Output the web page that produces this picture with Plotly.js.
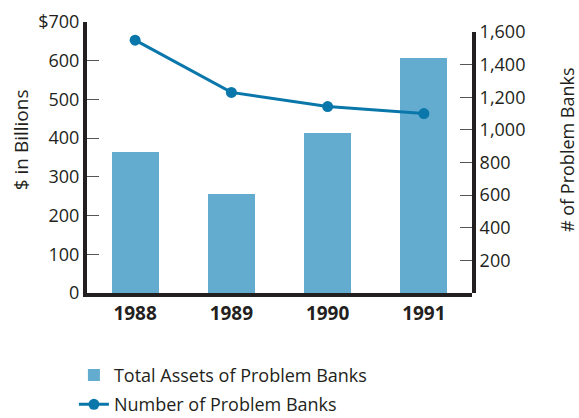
<!DOCTYPE html>
<html>
<head>
<meta charset="utf-8">
<script src="https://cdn.plot.ly/plotly-3.0.1.min.js"></script>
<style>html,body{margin:0;padding:0;background:#fff;}#chart{width:579px;height:418px;}</style>
</head>
<body>
<div id="chart"></div>
<script>
const years = ['1988', '1989', '1990', '1991'];
const totalAssets = [365, 257, 414, 606];          // $ in billions
const problemBanks = [1550, 1230, 1143, 1100];     // number of banks
const leftTicks = [0, 100, 200, 300, 400, 500, 600, 700];
const leftTickText = ['0', '100', '200', '300', '400', '500', '600', '$700'];
const rightTicks = [200, 400, 600, 800, 1000, 1200, 1400, 1600];

const FONT = '"Open Sans", "Noto Sans", sans-serif';
const INK = '#231f20';

const traces = [
  {
    type: 'bar', x: years, y: totalAssets, name: 'Total Assets of Problem Banks',
    marker: {color: '#63acd0'}, width: 0.49, legendgroup: 'a', hoverinfo: 'skip'
  },
  {
    type: 'scatter', mode: 'lines+markers', x: years, y: problemBanks, yaxis: 'y2',
    name: 'Number of Problem Banks', legendgroup: 'b',
    line: {color: '#0a77ab', width: 3}, marker: {color: '#0a77ab', size: 11}
  }
];

const layout = {
  width: 579, height: 418,
  margin: {l: 87, r: 107, t: 22, b: 125, pad: 0, autoexpand: false},
  paper_bgcolor: '#fff', plot_bgcolor: 'rgba(0,0,0,0)',
  font: {family: FONT, color: INK, size: 18},
  showlegend: true,
  legend: {
    x: -0.034, xanchor: 'left', y: -0.235, yanchor: 'top',
    orientation: 'v', tracegroupgap: 3, traceorder: 'grouped',
    font: {family: FONT, size: 18, color: INK}, bgcolor: 'rgba(0,0,0,0)'
  },
  bargap: 0,
  xaxis: {
    type: 'category', range: [-0.5, 3.5], showgrid: false, zeroline: false,
    showline: true, linewidth: 4, linecolor: INK, ticks: '',
    tickfont: {family: FONT, size: 19, color: INK, weight: 'bold'},
    fixedrange: true
  },
  yaxis: {
    range: [0, 700], tickvals: leftTicks, ticktext: leftTickText,
    showgrid: false, zeroline: false, showline: true, linewidth: 4, linecolor: INK,
    ticks: 'inside', ticklen: 12, tickwidth: 1, tickcolor: '#555',
    tickfont: {family: FONT, size: 18, color: INK},
    automargin: false
  },
  yaxis2: {
    range: [0, 1600], domain: [0, 0.963], anchor: 'x', side: 'right',
    tickvals: rightTicks, tickformat: ',',
    showgrid: false, zeroline: false, showline: true, linewidth: 4, linecolor: INK,
    ticks: 'inside', ticklen: 12, tickwidth: 1, tickcolor: '#555',
    tickfont: {family: FONT, size: 18, color: INK},
    automargin: false
  },
  annotations: [
    {text: '$ in Billions', xref: 'paper', yref: 'paper', x: -0.173, y: 0.565,
     xanchor: 'center', yanchor: 'middle', textangle: -90, showarrow: false,
     font: {family: FONT, size: 19, color: INK}},
    {text: '# of Problem Banks', xref: 'paper', yref: 'paper', x: 1.247, y: 0.528,
     xanchor: 'center', yanchor: 'middle', textangle: -90, showarrow: false,
     font: {family: FONT, size: 18, color: INK}}
  ]
};

Plotly.newPlot('chart', traces, layout, {staticPlot: true, displayModeBar: false});
</script>
</body>
</html>
